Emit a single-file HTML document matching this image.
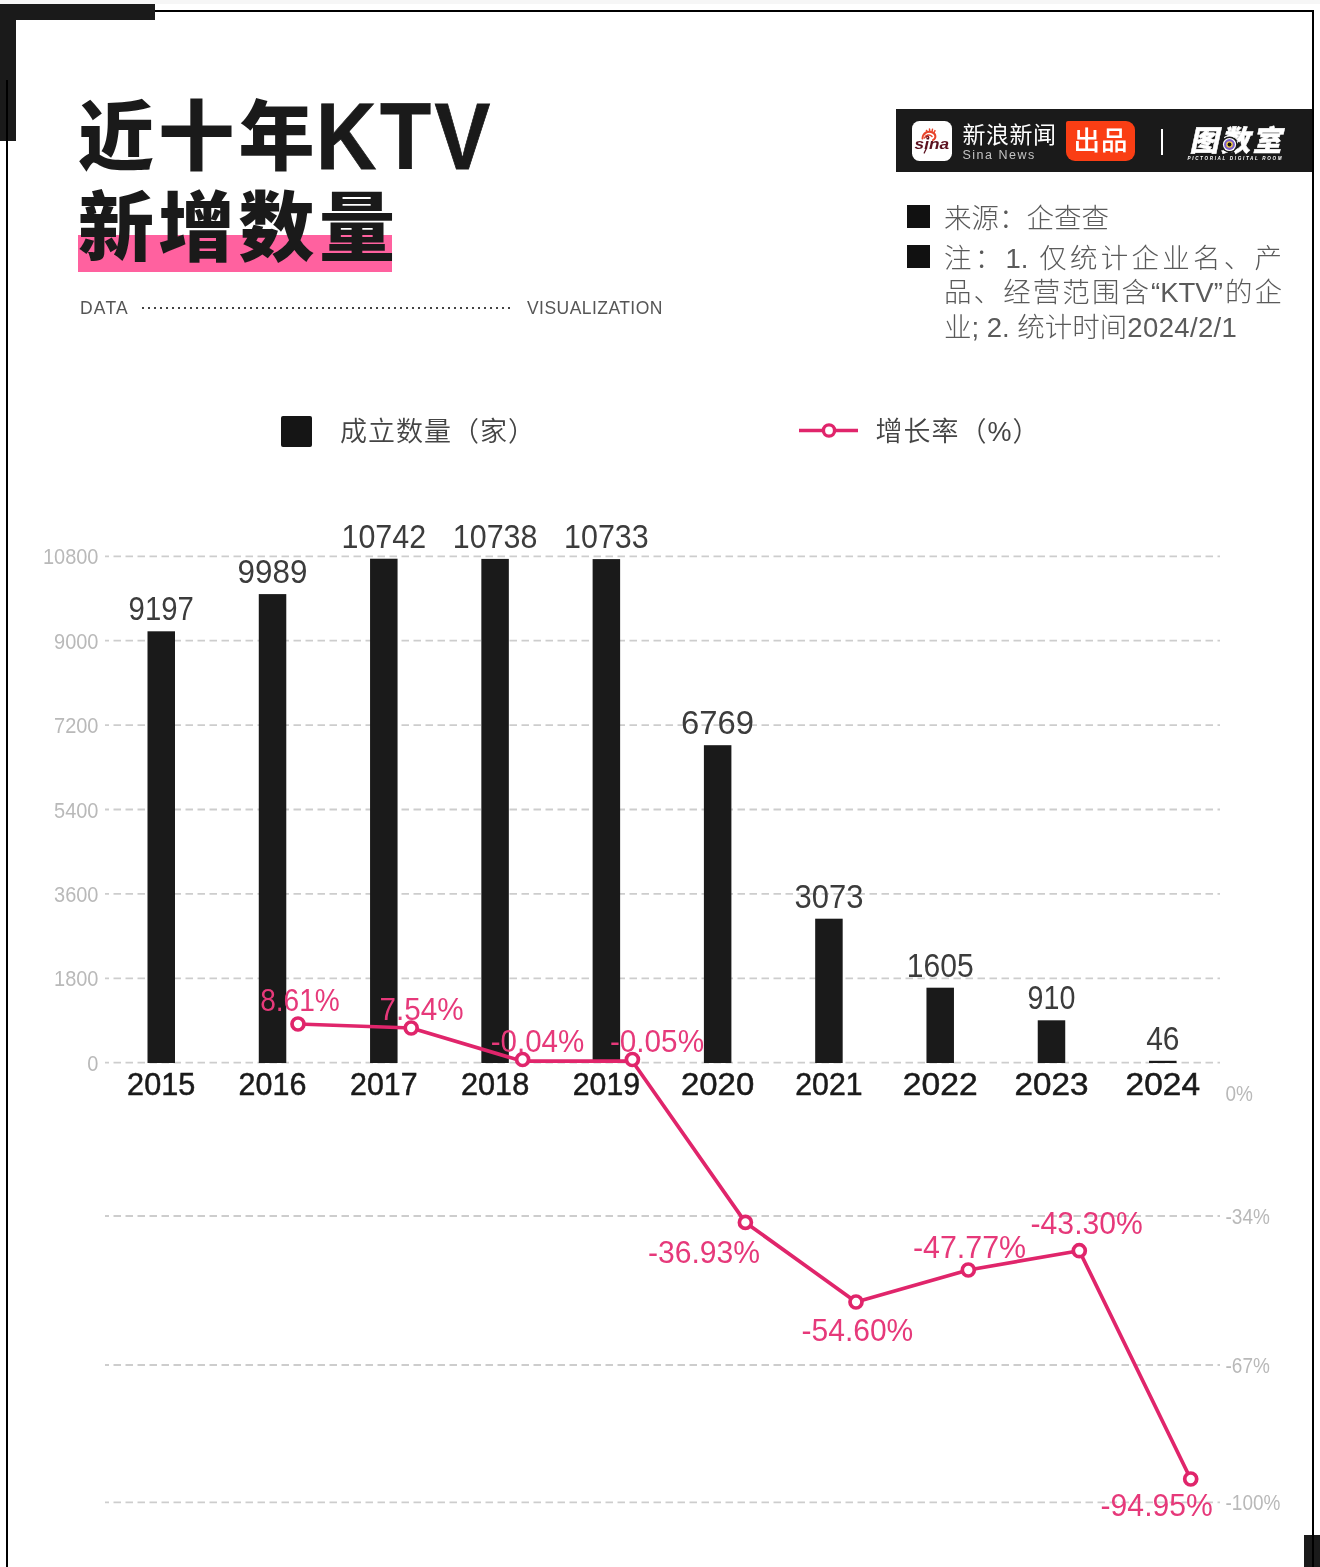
<!DOCTYPE html>
<html lang="zh-CN">
<head>
<meta charset="utf-8">
<title>近十年KTV新增数量</title>
<style>
  html, body { margin: 0; padding: 0; }
  body {
    width: 1320px; height: 1567px; position: relative; overflow: hidden;
    background: #ffffff;
    font-family: "Liberation Sans", "Noto Sans CJK SC", sans-serif;
    color: #1a1a1a;
  }
  .abs { position: absolute; }
  /* ---------- frame ---------- */
  .topstrip { left: 0; top: 0; width: 1320px; height: 4px; background: #f6f6f6; }
  .line-top { left: 150px; top: 10px; width: 1164px; height: 2px; background: #000; }
  .line-left { left: 6px; top: 80px; width: 2px; height: 1487px; background: #000; }
  .line-right { left: 1312px; top: 10px; width: 2px; height: 1557px; background: #000; }
  .corner-h { left: 0; top: 4px; width: 155px; height: 16px; background: #1a1a1a; }
  .corner-v { left: 0; top: 4px; width: 16px; height: 137px; background: #1a1a1a; }
  .corner-br { left: 1304px; top: 1535px; width: 16px; height: 32px; background: #1a1a1a; }

  /* ---------- title ---------- */
  .title {
    left: 78px; white-space: nowrap;
    font-family: "Liberation Sans", "Noto Sans CJK SC", sans-serif;
    font-weight: 900; font-size: 76px; letter-spacing: 4.3px; line-height: 94px; color: #1a1a1a;
  }
  .t1 { top: 83.5px; }
  .t2 { top: 182px; }
  .ktv {
    font-family: "Liberation Sans", "Noto Sans CJK SC", sans-serif;
    font-weight: 700; font-size: 95px; letter-spacing: 4px;
    display: inline-block; margin-left: -3px; transform: scaleX(0.88); transform-origin: 0 50%; position: relative; top: 5px; -webkit-text-stroke: 0.8px #1a1a1a;
  }
  .hl { left: 78px; top: 235px; width: 314px; height: 37px; background: #ff619f; }

  .sub { top: 296px; font-size: 17.5px; line-height: 24px; color: #555; white-space: nowrap; }
  .dots { left: 142px; top: 307px; width: 372px; height: 2px;
    background-image: radial-gradient(circle at 1px 1px, #444 0, #444 0.9px, rgba(68,68,68,0) 1.3px);
    background-size: 6px 2px; background-repeat: repeat-x; }

  /* ---------- brand bar ---------- */
  .brand { left: 896px; top: 109px; width: 416px; height: 63px; background: #1a1a1a; }
  .sina-ico { left: 912px; top: 121px; width: 40px; height: 40px; background: #fff; border-radius: 7.5px; overflow: hidden; }
  .sina-cn { left: 962.5px; top: 119px; font-size: 23px; line-height: 32px; color: #fff; white-space: nowrap; font-weight: 400; letter-spacing: 0.5px; }
  .sina-en { left: 962.5px; top: 147px; font-size: 12.5px; line-height: 16px; color: #c4c4c4; white-space: nowrap; letter-spacing: 1.5px; }
  .chupin { left: 1066px; top: 121px; width: 69px; height: 40px; border-radius: 2px 9px 9px 9px; background: #fa3e14;
    color: #fff; font-weight: 500; font-size: 26.5px; line-height: 41px; text-align: center; white-space: nowrap; letter-spacing: 1px; text-indent: 1px; }
  .sep { left: 1161px; top: 129px; width: 2px; height: 26px; background: #fff; }

  /* ---------- notes ---------- */
  .bullet { left: 907px; width: 23px; height: 23px; background: #111; }
  .note { left: 944px; width: 338px; font-size: 27.5px; line-height: 35px; color: #5a5a5a; font-weight: 300; white-space: nowrap; }
  .just { text-align: justify; text-align-last: justify; }

  /* ---------- legend ---------- */
  .lg-sq { left: 281px; top: 416px; width: 31px; height: 31px; background: #151515; border-radius: 2px; }
  .lg-t { top: 414px; font-size: 27px; line-height: 36px; color: #444; font-weight: 350; white-space: nowrap; letter-spacing: 1px; }
</style>
</head>
<body>
  <!-- frame -->
  <div class="abs topstrip"></div>
  <div class="abs line-top"></div>
  <div class="abs corner-h"></div>
  <div class="abs corner-v"></div>
  <div class="abs line-left"></div>
  <div class="abs corner-br"></div>
  <div class="abs line-right"></div>

  <!-- title -->
  <div class="abs hl"></div>
  <div class="abs title t1">近十年<span class="ktv">KTV</span></div>
  <div class="abs title t2">新增数量</div>
  <div class="abs sub" style="left:80px; letter-spacing:1.2px;">DATA</div>
  <div class="abs dots"></div>
  <div class="abs sub" style="left:527px; letter-spacing:0.45px;">VISUALIZATION</div>

  <!-- brand bar -->
  <div class="abs brand"></div>
  <div class="abs sina-ico">
    <svg width="40" height="40" viewBox="0 0 40 40">
      <g fill="none" stroke="#e8452c" stroke-linecap="round">
        <path d="M10.5 17.5 C11 11.5 16 9.5 20.5 11.5 C24 13 24.5 17 21 19" stroke-width="2"/>
        <path d="M12.5 17 C14 13.5 18 13 20 15.5" stroke-width="1.5"/>
        <path d="M14.5 9.5 L15.5 11.2 M17.5 8 L17.8 10.4 M20.5 8.2 L20 10.6 M23 9.6 L22 11.6" stroke-width="1.5"/>
      </g>
      <circle cx="15.6" cy="16.3" r="1.7" fill="#7a1422"/>
      <circle cx="15.3" cy="16.5" r="0.7" fill="#f3b59a"/>
      <text x="2.6" y="27.6" font-family="Liberation Sans, sans-serif" font-style="italic" font-weight="700" font-size="15.5" fill="#5c1220" textLength="34.5" lengthAdjust="spacingAndGlyphs">sina</text>
      <path d="M14.6 27 L12.2 32" stroke="#5c1220" stroke-width="1.3" stroke-linecap="round" fill="none"/>
    </svg>
  </div>
  <div class="abs sina-cn">新浪新闻</div>
  <div class="abs sina-en">Sina News</div>
  <div class="abs chupin">出品</div>
  <div class="abs sep"></div>
  <div class="abs" style="left:1180px; top:118px; width:125px; height:50px;">
    <svg width="125" height="50" viewBox="0 0 125 50">
      <g transform="translate(9.5,33) skewX(-12)">
        <text x="0" y="0" font-family="Liberation Sans, Noto Sans CJK SC, sans-serif" font-weight="900" font-size="29" fill="#ffffff" stroke="#ffffff" stroke-width="0.5" textLength="92" lengthAdjust="spacing">图数室</text>
      </g>
      <circle cx="49.5" cy="26.5" r="8" fill="#1a1a1a"/>
      <circle cx="49.5" cy="26.5" r="6.6" fill="#ffffff"/>
      <circle cx="49.5" cy="26.5" r="5.4" fill="#7a5fc9"/>
      <circle cx="49.5" cy="26.5" r="3.3" fill="#f2c94c"/>
      <circle cx="49.5" cy="26.5" r="1.9" fill="#111111"/>
      <text x="7.5" y="41.6" font-family="Liberation Sans, sans-serif" font-weight="700" font-style="italic" font-size="4.6" fill="#ffffff" textLength="94" lengthAdjust="spacing">PICTORIAL DIGITAL ROOM</text>
    </svg>
  </div>

  <!-- notes -->
  <div class="abs bullet" style="top:205px;"></div>
  <div class="abs bullet" style="top:245px;"></div>
  <div class="abs note" style="top:201px;">来源：企查查</div>
  <div class="abs note just" style="top:240.5px;">注：1. 仅统计企业名、产</div>
  <div class="abs note just" style="top:274.5px;">品、经营范围含“KTV”的企</div>
  <div class="abs note" style="top:310px;">业; 2. 统计时间<span style="letter-spacing:0.35px">2024/2/1</span></div>

  <!-- legend -->
  <div class="abs lg-sq"></div>
  <div class="abs lg-t" style="left:340px;">成立数量（家）</div>
  <div class="abs lg-t" style="left:875.5px;">增长率（%）</div>

  <!--CHART-START-->
  <svg class="abs" style="left:0;top:0;" width="1320" height="1567" viewBox="0 0 1320 1567" font-family="Liberation Sans, Noto Sans CJK SC, sans-serif">
  <g stroke="#cdcdcd" stroke-width="1.8" stroke-dasharray="7.5 4.5" stroke-dashoffset="3.5" fill="none">
  <line x1="105" y1="1062.7" x2="1220" y2="1062.7"/>
  <line x1="105" y1="978.3" x2="1220" y2="978.3"/>
  <line x1="105" y1="893.9" x2="1220" y2="893.9"/>
  <line x1="105" y1="809.5" x2="1220" y2="809.5"/>
  <line x1="105" y1="725.1" x2="1220" y2="725.1"/>
  <line x1="105" y1="640.7" x2="1220" y2="640.7"/>
  <line x1="105" y1="556.3" x2="1220" y2="556.3"/>
  <line x1="105" y1="1216" x2="1220" y2="1216"/>
  <line x1="105" y1="1365" x2="1220" y2="1365"/>
  <line x1="105" y1="1502.3" x2="1220" y2="1502.3"/>
  </g>
  <g font-size="20" fill="#b9b9b9" text-anchor="end">
  <text transform="translate(98.5,1070.7) scale(1.0,1.14)">0</text>
  <text transform="translate(98.5,986.3) scale(1.0,1.14)">1800</text>
  <text transform="translate(98.5,901.9) scale(1.0,1.14)">3600</text>
  <text transform="translate(98.5,817.5) scale(1.0,1.14)">5400</text>
  <text transform="translate(98.5,733.1) scale(1.0,1.14)">7200</text>
  <text transform="translate(98.5,648.7) scale(1.0,1.14)">9000</text>
  <text transform="translate(98.5,564.3) scale(1.0,1.14)">10800</text>
  </g>
  <g font-size="19" fill="#b9b9b9" text-anchor="start">
  <text transform="translate(1225.5,1101.0) scale(1.0,1.2)">0%</text>
  <text transform="translate(1225.5,1224.0) scale(1.0,1.2)">-34%</text>
  <text transform="translate(1225.5,1373.0) scale(1.0,1.2)">-67%</text>
  <text transform="translate(1225.5,1510.3) scale(1.0,1.2)">-100%</text>
  </g>
  <g fill="#1a1a1a">
  <rect x="147.50" y="631.3" width="27.5" height="431.7"/>
  <rect x="258.78" y="594.1" width="27.5" height="468.9"/>
  <rect x="370.06" y="558.7" width="27.5" height="504.3"/>
  <rect x="481.34" y="558.9" width="27.5" height="504.1"/>
  <rect x="592.62" y="559.1" width="27.5" height="503.9"/>
  <rect x="703.90" y="745.2" width="27.5" height="317.8"/>
  <rect x="815.18" y="918.7" width="27.5" height="144.3"/>
  <rect x="926.46" y="987.7" width="27.5" height="75.3"/>
  <rect x="1037.74" y="1020.3" width="27.5" height="42.7"/>
  <rect x="1149.02" y="1060.8" width="27.5" height="2.2"/>
  </g>
  <g font-size="30" fill="#3c3c3c" text-anchor="middle">
  <text transform="translate(161.2,620.3) scale(0.978,1.09)">9197</text>
  <text transform="translate(272.5,583.1) scale(1.047,1.09)">9989</text>
  <text transform="translate(383.8,547.7) scale(1.016,1.09)">10742</text>
  <text transform="translate(495.1,547.9) scale(1.014,1.09)">10738</text>
  <text transform="translate(606.4,548.1) scale(1.014,1.09)">10733</text>
  <text transform="translate(717.6,734.2) scale(1.095,1.09)">6769</text>
  <text transform="translate(828.9,907.7) scale(1.033,1.09)">3073</text>
  <text transform="translate(940.2,976.7) scale(1.002,1.09)">1605</text>
  <text transform="translate(1051.5,1009.3) scale(0.956,1.09)">910</text>
  <text transform="translate(1162.8,1049.8) scale(1.0,1.09)">46</text>
  </g>
  <g font-size="30" fill="#1a1a1a" text-anchor="middle" stroke="#1a1a1a" stroke-width="0.5">
  <text transform="translate(161.2,1095.2) scale(1.022,1.03)">2015</text>
  <text transform="translate(272.5,1095.2) scale(1.016,1.03)">2016</text>
  <text transform="translate(383.8,1095.2) scale(1.011,1.03)">2017</text>
  <text transform="translate(495.1,1095.2) scale(1.023,1.03)">2018</text>
  <text transform="translate(606.4,1095.2) scale(1.009,1.03)">2019</text>
  <text transform="translate(717.6,1095.2) scale(1.098,1.03)">2020</text>
  <text transform="translate(828.9,1095.2) scale(1.009,1.03)">2021</text>
  <text transform="translate(940.2,1095.2) scale(1.121,1.03)">2022</text>
  <text transform="translate(1051.5,1095.2) scale(1.109,1.03)">2023</text>
  <text transform="translate(1162.8,1095.2) scale(1.116,1.03)">2024</text>
  </g>
  <polyline fill="none" stroke="#e0256b" stroke-width="3.7" stroke-linejoin="round" stroke-linecap="round" points="298,1024 411.2,1028 522.6,1061.2 632.4,1061.2 745.4,1222.4 856,1302 968.3,1270 1079.3,1250.7 1190.7,1479"/>
  <g fill="#ffffff" stroke="#e0256b" stroke-width="3.7">
  <circle cx="298" cy="1024" r="6"/>
  <circle cx="411.2" cy="1028" r="6"/>
  <circle cx="522.6" cy="1059.5" r="6"/>
  <circle cx="632.4" cy="1059.5" r="6"/>
  <circle cx="745.4" cy="1222.4" r="6"/>
  <circle cx="856" cy="1302" r="6"/>
  <circle cx="968.3" cy="1270" r="6"/>
  <circle cx="1079.3" cy="1250.7" r="6"/>
  <circle cx="1190.7" cy="1479" r="6"/>
  </g>
  <g font-size="29.5" fill="#e6397a" text-anchor="middle">
  <text transform="translate(300.0,1010.6) scale(0.952,1.08)">8.61%</text>
  <text transform="translate(421.5,1019.6) scale(1.006,1.08)">7.54%</text>
  <text transform="translate(537.5,1051.6) scale(1.003,1.08)">-0.04%</text>
  <text transform="translate(657.0,1051.6) scale(1.008,1.08)">-0.05%</text>
  <text transform="translate(704.0,1262.6) scale(1.022,1.08)">-36.93%</text>
  <text transform="translate(857.4,1340.6) scale(1.017,1.08)">-54.60%</text>
  <text transform="translate(969.5,1257.9) scale(1.031,1.08)">-47.77%</text>
  <text transform="translate(1086.7,1233.9) scale(1.022,1.08)">-43.30%</text>
  <text transform="translate(1156.7,1516.3) scale(1.022,1.08)">-94.95%</text>
  </g>
  <line x1="799" y1="430.5" x2="858" y2="430.5" stroke="#e0256b" stroke-width="3.6"/>
  <circle cx="829" cy="430.5" r="5.6" fill="#ffffff" stroke="#e0256b" stroke-width="3.4"/>
  </svg>
  <!--CHART-END-->
</body>
</html>
